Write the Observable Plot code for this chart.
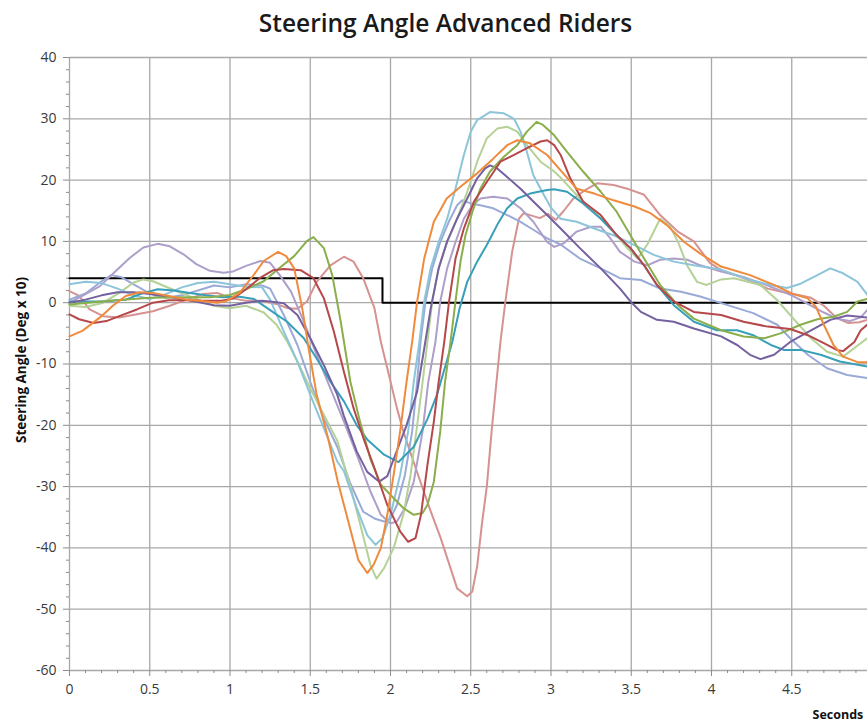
<!DOCTYPE html>
<html><head><meta charset="utf-8">
<script src="https://cdn.jsdelivr.net/npm/d3@7"></script>
<script src="https://cdn.jsdelivr.net/npm/@observablehq/plot@0.6"></script>
<style>
body{margin:0;background:#fff;overflow:hidden}
#chart svg{display:block}
</style></head><body>
<div id="chart"></div>
<script>
const title = "Steering Angle Advanced Riders";
const yLabel = "Steering Angle (Deg x 10)";
const xLabel = "Seconds";
const xMajor = [0, 0.5, 1, 1.5, 2, 2.5, 3, 3.5, 4, 4.5];
const xMinor = d3.range(0, 50).map(i => i / 10).filter(v => Math.round(v * 10) % 5 !== 0);
const yMajor = [-60, -50, -40, -30, -20, -10, 0, 10, 20, 30, 40];
const yMinor = d3.range(-60, 41, 2).filter(v => v % 10 !== 0);

// reference step (black)
const reference = [[0, 4], [1.95, 0], [4.972, 0]];

const orange = [[0,-5.5],[0.08,-4.6],[0.19,-2.4],[0.27,-0.5],[0.35,1.1],[0.44,1.7],[0.52,1.6],[0.62,1.1],[0.73,0.5],[0.81,0.3],[0.92,0],[0.98,0.3],[1.06,1.6],[1.15,4.6],[1.21,6.8],[1.3,8.3],[1.35,7.6],[1.4,5.6],[1.45,-0.9],[1.49,-7.5],[1.54,-15],[1.61,-22],[1.67,-29],[1.72,-34],[1.77,-39],[1.8,-42],[1.855,-44.1],[1.896,-42.7],[1.94,-40],[1.98,-34.6],[2.02,-28],[2.06,-21],[2.1,-12.9],[2.135,-6.4],[2.166,0.2],[2.21,7.2],[2.27,13.2],[2.35,17],[2.436,18.9],[2.54,21.1],[2.64,23.5],[2.727,25.7],[2.79,26.5],[2.87,26],[2.976,24.1],[3.06,21.6],[3.16,18.6],[3.27,17.8],[3.39,16.7],[3.52,15.7],[3.62,14.6],[3.72,12.7],[3.83,9.9],[3.93,8],[4.06,5.9],[4.24,4.5],[4.39,2.9],[4.5,1.5],[4.6,0.7],[4.65,-0.65],[4.7,-3.6],[4.76,-6.9],[4.82,-8.8],[4.91,-9.7],[4.97,-9.7]];

const darkred = [[0,-1.9],[0.06,-2.7],[0.15,-3.3],[0.23,-3],[0.31,-2.2],[0.42,-1.1],[0.52,0],[0.62,0.4],[0.73,0.4],[0.83,0.3],[0.94,0.3],[1.02,0.7],[1.1,2.2],[1.19,4.1],[1.27,5.3],[1.335,5.5],[1.44,5.3],[1.52,4],[1.585,0.7],[1.647,-4.7],[1.71,-11.3],[1.77,-17.2],[1.83,-22],[1.9,-27],[1.98,-33],[2.06,-37.3],[2.11,-39],[2.156,-38.4],[2.19,-34.6],[2.23,-26.5],[2.27,-19.4],[2.3,-12.9],[2.335,-6.4],[2.365,0.2],[2.405,7.2],[2.457,12.1],[2.52,16.5],[2.6,19.7],[2.685,23],[2.77,24.1],[2.85,25.2],[2.935,26.3],[2.976,26.5],[3.02,25.7],[3.06,24.1],[3.12,20.3],[3.2,16.5],[3.31,14.3],[3.41,11],[3.495,8.9],[3.58,6.1],[3.66,2.9],[3.765,0.2],[3.89,-1.5],[4.06,-2],[4.2,-3.1],[4.35,-3.9],[4.49,-4.3],[4.6,-5.3],[4.7,-6.6],[4.78,-7.7],[4.82,-7.9],[4.89,-6.4],[4.93,-4.5],[4.97,-3.6]];

const green = [[0,-0.3],[0.25,0.3],[0.5,0.8],[0.73,0.9],[0.875,0.9],[1.0,1.25],[1.1,2.2],[1.21,3.5],[1.31,5.7],[1.4,7.6],[1.48,10.1],[1.52,10.7],[1.585,8.9],[1.637,4.5],[1.69,-3.1],[1.75,-12.9],[1.81,-19.4],[1.875,-25.5],[1.94,-29.7],[2.02,-31.9],[2.08,-33.5],[2.145,-34.6],[2.2,-34.3],[2.23,-33],[2.27,-29.2],[2.31,-21],[2.34,-12.9],[2.374,-6.4],[2.405,0.2],[2.436,6.7],[2.467,11],[2.51,14.8],[2.56,18.6],[2.62,21.4],[2.706,23.8],[2.79,25.7],[2.85,27.9],[2.91,29.5],[2.95,29],[3.02,27.3],[3.1,24.6],[3.2,21.4],[3.31,18.1],[3.41,14.8],[3.495,11],[3.58,7.2],[3.68,2.9],[3.79,-0.4],[3.89,-2.6],[4.06,-4.5],[4.2,-5.5],[4.33,-5.8],[4.43,-5],[4.555,-3.6],[4.66,-2.7],[4.76,-2.3],[4.845,-1.5],[4.91,0.2],[4.97,0.6]];

const purple = [[0,0],[0.1,0.5],[0.2,1.2],[0.3,1.7],[0.4,1.7],[0.5,1.4],[0.6,1.0],[0.7,0.6],[0.8,0.1],[0.9,-0.4],[1.0,-0.5],[1.1,0],[1.2,0.3],[1.25,0.2],[1.335,-0.1],[1.42,-2],[1.5,-5.8],[1.585,-10.2],[1.668,-15],[1.71,-18.5],[1.79,-24.3],[1.855,-27.6],[1.93,-29.2],[1.98,-28.3],[2.02,-25.5],[2.1,-20],[2.166,-14.5],[2.21,-7.5],[2.25,-1],[2.3,5.6],[2.353,10],[2.415,13.7],[2.478,17],[2.54,20.3],[2.59,21.9],[2.62,22.4],[2.665,21.9],[2.727,20.5],[2.81,18.6],[2.89,16.5],[2.976,14.3],[3.06,12.1],[3.18,8.9],[3.31,5.6],[3.43,2.3],[3.495,0.2],[3.56,-1.5],[3.66,-2.8],[3.765,-3.1],[3.89,-4.2],[4.06,-5.5],[4.16,-6.9],[4.24,-8.5],[4.305,-9.2],[4.39,-8.5],[4.49,-6.4],[4.62,-4.5],[4.74,-2.8],[4.845,-2.1],[4.97,-2.4]];

const teal = [[0,0.2],[0.2,0.2],[0.35,0.5],[0.45,1.5],[0.55,2.2],[0.65,2.0],[0.75,1.6],[0.85,1.2],[0.95,0.9],[1.05,1.0],[1.15,0.6],[1.25,-1.2],[1.356,-3.1],[1.46,-5.8],[1.54,-9.1],[1.626,-12.9],[1.71,-16.1],[1.79,-20],[1.855,-22.3],[1.96,-24.8],[2.05,-26],[2.145,-23.5],[2.23,-19],[2.29,-15],[2.35,-9.6],[2.385,-6.4],[2.43,-1],[2.478,3.4],[2.54,6.7],[2.6,9.4],[2.665,12.7],[2.727,15.4],[2.79,17],[2.87,17.8],[2.976,18.4],[3.02,18.5],[3.1,18.1],[3.2,16.2],[3.31,13.7],[3.41,11],[3.495,8.9],[3.58,6.1],[3.66,2.9],[3.765,-0.4],[3.89,-3.1],[4.035,-4.5],[4.16,-4.5],[4.26,-5.3],[4.37,-6.9],[4.45,-7.7],[4.555,-7.7],[4.68,-8.5],[4.8,-9.6],[4.97,-10.4]];

const skyblue = [[0,3.0],[0.1,3.4],[0.2,3.2],[0.3,2.3],[0.4,1.2],[0.5,0.6],[0.6,1.4],[0.7,2.5],[0.8,3.2],[0.9,3.4],[1.0,3.0],[1.1,2.6],[1.2,2.5],[1.25,0.5],[1.3,-2.5],[1.335,-4.7],[1.42,-9.6],[1.5,-15],[1.585,-20.5],[1.668,-25.9],[1.71,-27.5],[1.79,-33.5],[1.855,-37.9],[1.907,-39.5],[1.95,-38.4],[2.0,-34.6],[2.06,-28.1],[2.11,-21],[2.145,-12.9],[2.18,-6.4],[2.21,0.2],[2.25,5.6],[2.3,9.9],[2.353,13.7],[2.405,18.6],[2.457,24.1],[2.5,27.9],[2.54,29.8],[2.62,31.1],[2.706,30.9],[2.77,30],[2.81,27.9],[2.85,24.6],[2.89,20.8],[2.955,17.6],[3.0,15.5],[3.06,13.7],[3.16,13.2],[3.27,12.1],[3.39,11],[3.52,9.4],[3.64,7.8],[3.765,6.7],[3.89,6.1],[4.06,5.4],[4.24,3.7],[4.37,2.9],[4.47,2.4],[4.555,3.1],[4.66,4.5],[4.74,5.6],[4.82,4.8],[4.91,3.4],[4.97,1.3]];

const lightgreen = [[0,-0.5],[0.1,-0.7],[0.21,0],[0.31,1.6],[0.4,3.3],[0.46,3.8],[0.52,3.5],[0.62,2.4],[0.77,0.8],[0.9,-0.5],[1.0,-0.9],[1.1,-0.5],[1.21,-1.6],[1.29,-3.6],[1.36,-6.5],[1.42,-9.6],[1.5,-14],[1.585,-18.3],[1.668,-22.5],[1.75,-30],[1.81,-36],[1.875,-42.8],[1.913,-45],[1.96,-43.3],[2.02,-40],[2.08,-34.6],[2.125,-28.1],[2.166,-20],[2.2,-12.9],[2.23,-6.4],[2.26,0.2],[2.3,5.6],[2.353,9.9],[2.415,13.7],[2.478,18.1],[2.54,23],[2.6,26.8],[2.665,28.4],[2.727,28.7],[2.79,27.9],[2.85,25.7],[2.935,23],[3.02,21.4],[3.06,20.4],[3.18,17],[3.29,14.3],[3.39,11.6],[3.475,8.9],[3.54,7.2],[3.6,9.5],[3.68,13.7],[3.74,12.5],[3.79,10],[3.85,6],[3.91,3.4],[3.97,2.9],[4.06,3.8],[4.14,4.0],[4.305,2.9],[4.41,0.4],[4.51,-2.6],[4.62,-5.8],[4.72,-8],[4.82,-8.8],[4.89,-7.4],[4.97,-5.8]];

const lavender = [[0,0],[0.08,1.1],[0.19,2.7],[0.29,5.2],[0.375,7.3],[0.46,9],[0.55,9.6],[0.625,9.2],[0.71,7.9],[0.79,6.3],[0.875,5.2],[0.96,4.9],[1.02,5.1],[1.1,6],[1.19,6.8],[1.25,6.5],[1.31,4.5],[1.38,1.8],[1.46,-3.1],[1.54,-8.5],[1.626,-14],[1.71,-19.4],[1.79,-24.8],[1.875,-30.8],[1.94,-34.6],[2.0,-36],[2.04,-35.7],[2.09,-33.5],[2.145,-29.2],[2.2,-21],[2.235,-13],[2.28,-6.4],[2.31,0.2],[2.353,5.6],[2.405,9.9],[2.457,13.7],[2.51,15.9],[2.56,17],[2.64,17.3],[2.727,17],[2.81,15.4],[2.89,13.2],[2.976,9.9],[3.02,9.1],[3.08,9.7],[3.16,11.6],[3.25,12.4],[3.31,12.4],[3.37,10.5],[3.43,8.3],[3.52,6.7],[3.6,6.1],[3.68,7],[3.765,7.2],[3.85,7],[3.93,6.1],[4.06,5.1],[4.2,4.2],[4.35,2.8],[4.5,1.2],[4.6,-0.2],[4.7,-1.6],[4.78,-2.6],[4.86,-3],[4.93,-2.4],[4.97,-1.2]];

const periwinkle = [[0,0.5],[0.1,1.5],[0.2,3.5],[0.26,4.5],[0.32,4.2],[0.4,3.0],[0.5,1.5],[0.6,0.8],[0.7,1.2],[0.8,2.0],[0.9,2.8],[1.0,2.5],[1.1,3.0],[1.2,2.8],[1.25,2.3],[1.335,-2],[1.42,-6.9],[1.5,-12.9],[1.585,-18.9],[1.668,-23.5],[1.75,-29.5],[1.83,-34.1],[1.9,-35.2],[1.96,-35.7],[2.0,-35.2],[2.04,-33],[2.09,-28.1],[2.135,-21],[2.166,-12.9],[2.187,-6.4],[2.218,0.2],[2.26,5.6],[2.31,9.9],[2.363,13.2],[2.415,15.9],[2.447,16.7],[2.5,16.2],[2.56,15.9],[2.64,15.4],[2.727,14.3],[2.81,13.2],[2.89,11.9],[2.976,10.5],[3.06,9.5],[3.18,7.2],[3.31,5.6],[3.43,4.0],[3.56,3.7],[3.68,2.3],[3.81,1.8],[3.93,1.0],[4.1,-0.4],[4.26,-1.7],[4.41,-3.6],[4.49,-5.8],[4.6,-8.5],[4.72,-10.7],[4.845,-11.8],[4.97,-12.3]];

const pink = [[0,1.9],[0.06,1.1],[0.125,-1.1],[0.21,-2.2],[0.31,-2.4],[0.42,-1.9],[0.52,-1.4],[0.625,-0.5],[0.73,0.5],[0.83,1.4],[0.92,1.6],[1.0,0.8],[1.1,0.3],[1.19,0.3],[1.29,-0.2],[1.36,-0.9],[1.42,-1.0],[1.48,0.2],[1.54,3.4],[1.626,6.1],[1.71,7.5],[1.77,6.7],[1.83,4],[1.9,-0.9],[1.94,-6.4],[1.98,-10.7],[2.04,-17.2],[2.08,-21],[2.125,-24.5],[2.19,-29.5],[2.25,-34],[2.31,-38.2],[2.374,-43.3],[2.415,-46.6],[2.478,-47.9],[2.51,-47.1],[2.54,-43],[2.57,-36],[2.6,-30],[2.63,-21],[2.66,-13],[2.685,-6.4],[2.716,0.2],[2.758,8.3],[2.8,13.7],[2.83,14.6],[2.88,14.2],[2.93,13.8],[2.98,14.5],[3.03,13.5],[3.08,15],[3.14,17],[3.22,18.5],[3.29,19.5],[3.39,19.2],[3.475,18.6],[3.58,17.6],[3.68,14.3],[3.79,11.6],[3.89,10],[3.99,6.5],[4.06,5.3],[4.15,4.5],[4.25,3.5],[4.35,2.3],[4.45,1.7],[4.55,1.2],[4.62,0.8],[4.7,-0.5],[4.78,-2.5],[4.85,-3.3],[4.92,-3.2],[4.97,-2.8]];

const seriesNames = ["pink","periwinkle","lavender","lightgreen","skyblue","teal","purple","green","darkred","orange"];
const seriesData = {pink, periwinkle, lavender, lightgreen, skyblue, teal, purple, green, darkred, orange};
const seriesColors = {
  orange: "#f08a3c", darkred: "#b6474a", green: "#8aae4c", purple: "#7560a0",
  teal: "#389fb9", skyblue: "#8cc5da", lightgreen: "#b4d196", lavender: "#ae9fca",
  periwinkle: "#9aaad7", pink: "#d69290"
};

const grid = "#a8a8a8";
const font = "'Open Sans', sans-serif";

const marks = [
  Plot.ruleX(xMajor, {stroke: grid, strokeWidth: 1.3}),
  Plot.ruleY(yMajor, {stroke: grid, strokeWidth: 1.3}),
  Plot.axisX(xMajor, {tickSize: 6, tickPadding: 8, stroke: "#8c8c8c", fill: "#3a3a3a", fontSize: 14, tickFormat: d => String(d), label: null}),
  Plot.axisX(xMinor, {tickSize: 3, stroke: "#8c8c8c", tickFormat: () => "", label: null}),
  Plot.axisY(yMajor, {tickSize: 6, tickPadding: 7, stroke: "#8c8c8c", fill: "#3a3a3a", fontSize: 14, tickFormat: d => String(d), label: null}),
  Plot.axisY(yMinor, {tickSize: 3, stroke: "#8c8c8c", tickFormat: () => "", label: null}),
  Plot.line(reference, {x: d => d[0], y: d => d[1], stroke: "#000", strokeWidth: 2, curve: "step-after"}),
  ...seriesNames.map(n => Plot.line(seriesData[n], {x: d => d[0], y: d => d[1], stroke: seriesColors[n], strokeWidth: 2, curve: "linear"})),
  Plot.text([title], {frameAnchor: "top", dx: -23, dy: -33, lineAnchor: "middle", fontSize: 24.5, fontWeight: 600, fill: "#1a1a1a"}),
  Plot.text([yLabel], {frameAnchor: "left", dx: -48, dy: -4, rotate: -90, textAnchor: "middle", lineAnchor: "middle", fontSize: 13.5, fontWeight: "bold", fill: "#111"}),
  Plot.text([xLabel], {frameAnchor: "bottom-right", dx: -55, dy: 44, textAnchor: "start", lineAnchor: "middle", fontSize: 12.5, fontWeight: "bold", fill: "#111"})
];

const chart = Plot.plot({
  width: 867, height: 722,
  marginTop: 57, marginBottom: 52, marginLeft: 69, marginRight: 0,
  x: {domain: [0, 4.972]},
  y: {domain: [-60, 40]},
  style: {fontFamily: font, background: "#fff"},
  marks
});
document.getElementById("chart").appendChild(chart);
</script>
</body></html>
